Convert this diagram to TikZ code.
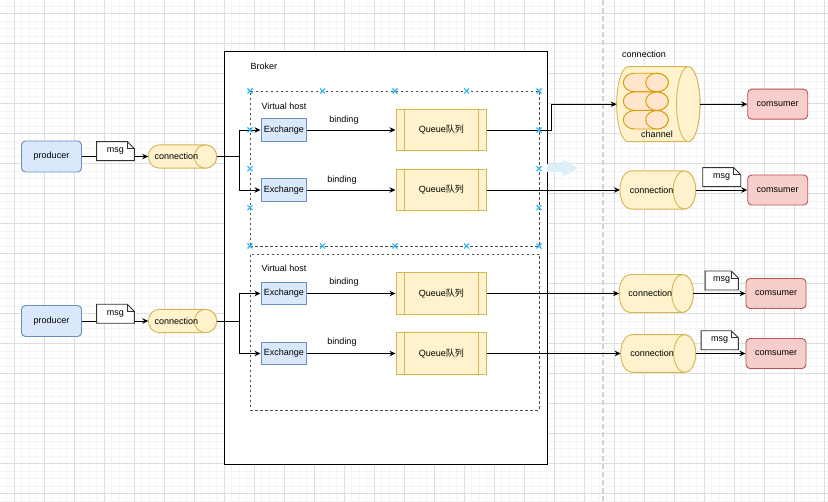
\documentclass[tikz,border=0pt]{standalone}
\usepackage{fontspec}
\setmainfont{Liberation Sans}
\newfontfamily\cjk{Noto Sans CJK SC}
\usetikzlibrary{calc,arrows.meta}
\definecolor{bfill}{HTML}{DAE8FC}
\definecolor{bstroke}{HTML}{6C8EBF}
\definecolor{yfill}{HTML}{FFF2CC}
\definecolor{ystroke}{HTML}{D6B656}
\definecolor{rfill}{HTML}{F8CECC}
\definecolor{rstroke}{HTML}{B85450}
\definecolor{ofill}{HTML}{FFE6CC}
\definecolor{ostroke}{HTML}{D79B00}
\definecolor{selblue}{HTML}{29B6F2}
\definecolor{gridminor}{HTML}{F4F4F4}
\definecolor{gridmajor}{HTML}{DEDEDE}
\definecolor{paleblue}{HTML}{DCEFFB}
\newcommand{\mycyl}[8]{%
  \node[inner sep=0pt, outer sep=0pt, minimum width=#4pt, minimum height=#5pt] (#1) at (#2,#3) {};
  \path[#7] ($(#1.north west)+(#6pt,0pt)$) -- ($(#1.north east)+(-#6pt,0pt)$)
     arc[start angle=90,end angle=-90,x radius=#6pt,y radius=#5pt/2]
     -- ($(#1.south west)+(#6pt,0pt)$)
     arc[start angle=270,end angle=90,x radius=#6pt,y radius=#5pt/2] -- cycle;
  \path[#7] ($(#1.east)+(-#6pt,0pt)$) ellipse[x radius=#6pt,y radius=#5pt/2];
  \node (#1t) at ($(#1.center)+(-#6pt*0.55,0pt)$) {#8};
}
\newcommand{\mynote}[5]{%
  \node[inner sep=0pt, outer sep=0pt, minimum width=#4pt, minimum height=#5pt] (#1) at (#2,#3) {};
  \draw[notest] (#1.south west) -- (#1.north west) -- ($(#1.north east)+(-7pt,0pt)$)
     -- ($(#1.north east)+(0pt,-7pt)$) -- (#1.south east) -- cycle;
  \draw[notest, fill=none] ($(#1.north east)+(-7pt,0pt)$) -- ($(#1.north east)+(-7pt,-7pt)$) -- ($(#1.north east)+(0pt,-7pt)$);
  \node (#1t) at (#1.center) {msg};
}
\begin{document}
\begin{tikzpicture}[x=1pt,y=-1pt,
  font=\fontsize{9}{11}\selectfont,
  arr/.style={draw=black, line width=0.9pt, -{Stealth[length=6pt,width=5.5pt]}},
  ln/.style={draw=black, line width=0.9pt},
  notest/.style={draw=black!80, fill=white, line width=0.9pt},
  bluebox/.style={draw=bstroke, fill=bfill, line width=0.9pt, inner sep=0pt},
  redbox/.style={draw=rstroke, fill=rfill, line width=0.9pt, rounded corners=4pt, inner sep=0pt, minimum width=60pt, minimum height=30pt},
  prodbox/.style={draw=bstroke, fill=bfill, line width=0.9pt, rounded corners=4pt, inner sep=0pt, minimum width=60pt, minimum height=31pt},
  exbox/.style={bluebox, minimum width=45.7pt, minimum height=22.7pt},
  quebox/.style={draw=ystroke, fill=yfill, line width=0.9pt, inner sep=0pt, minimum width=90.7pt, minimum height=41.7pt},
  ycyl/.style={draw=ystroke, fill=yfill, line width=0.9pt},
  ocyl/.style={draw=ostroke, fill=ofill, line width=0.9pt},
  vhost/.style={draw=black!70, line width=0.9pt, dash pattern=on 2.5pt off 2.5pt},
  selmark/.style={draw=selblue, line width=1.1pt},
]
\useasboundingbox (0,0) rectangle (828,502);
% background grid
\fill[white] (0,0) rectangle (828,502);
\foreach \i in {0,...,110} {\draw[gridminor, line width=1pt] ({6.5+7.5*\i},0) -- ({6.5+7.5*\i},502);}
\foreach \i in {0,...,66} {\draw[gridminor, line width=1pt] (0,{6.5+7.5*\i}) -- (828,{6.5+7.5*\i});}
\foreach \i in {0,...,27} {\draw[gridmajor, line width=1pt] ({14+30*\i},0) -- ({14+30*\i},502);}
\foreach \i in {0,...,16} {\draw[gridmajor, line width=1pt] (0,{14+30*\i}) -- (828,{14+30*\i});}
% separator
\draw[draw=black!18, line width=1.6pt, dash pattern=on 5pt off 3pt] (603,0) -- (603,502);
% broker
\node[draw=black, fill=white, line width=0.9pt, inner sep=0pt, minimum width=323pt, minimum height=413pt] (broker) at (385.5,257.5) {};
\node[anchor=west] (brokerlbl) at (247,66) {Broker};
% virtual hosts
\node[vhost, inner sep=0pt, minimum width=289pt, minimum height=155pt] (vh1) at (394.5,168.5) {};
\node[vhost, inner sep=0pt, minimum width=289pt, minimum height=156pt] (vh2) at (394.5,332) {};
\node[anchor=west] (vh1lbl) at (258,106.5) {Virtual host};
\node[anchor=west] (vh2lbl) at (258,268.5) {Virtual host};
% pale arrow
\fill[paleblue] (547,164) -- (563,164) -- (563,159.5) -- (578,168) -- (563,176.5) -- (563,172) -- (547,172) -- cycle;
% producers
\node[prodbox] (p1) at (51.5,156.5) {producer};
\node[prodbox] (p2) at (51.5,321) {producer};
\mycyl{c1}{182.5}{156.5}{68.4}{23.3}{11.2}{ycyl}{connection}
\mycyl{c2}{182.5}{321}{68.4}{23.3}{11.2}{ycyl}{connection}
% exchanges and queues
\node[exbox] (e1) at (283.8,130) {Exchange};
\node[exbox] (e2) at (283.8,190) {Exchange};
\node[exbox] (e3) at (283.8,293.5) {Exchange};
\node[exbox] (e4) at (283.8,353.5) {Exchange};
\foreach \n/\y in {q1/130,q2/190,q3/293.5,q4/353.5} {
  \node[quebox] (\n) at (441.3,\y) {Queue{\cjk 队列}};
  \draw[draw=ystroke, line width=0.9pt] ($(\n.north west)+(9pt,0pt)$) -- ($(\n.south west)+(9pt,0pt)$);
  \draw[draw=ystroke, line width=0.9pt] ($(\n.north east)+(-9pt,0pt)$) -- ($(\n.south east)+(-9pt,0pt)$);
}
% channel connection
\mycyl{ch}{658.3}{104.2}{83.3}{75}{11.7}{ycyl}{}
\mycyl{s1}{645.8}{82.5}{45}{18.5}{11.3}{ocyl}{}
\mycyl{s2}{645.8}{101.2}{45}{18.5}{11.3}{ocyl}{}
\mycyl{s3}{645.8}{119.8}{45}{18.5}{11.3}{ocyl}{}
\node (chlbl) at (657,134.5) {channel};
\node (chtitle) at (644,54) {connection};
% right connections
\mycyl{cc2}{657.8}{190}{75.7}{38.3}{11.2}{ycyl}{connection}
\mycyl{cc3}{656.2}{293.5}{74.3}{38}{10.8}{ycyl}{connection}
\mycyl{cc4}{658.2}{353.5}{75}{37.7}{11}{ycyl}{connection}
% consumers
\node[redbox] (u1) at (777.7,104.2) {comsumer};
\node[redbox] (u2) at (777.7,190) {comsumer};
\node[redbox] (u3) at (776,293.5) {comsumer};
\node[redbox] (u4) at (776,353.5) {comsumer};
% junctions
\coordinate (j1) at (239,156.5);
\coordinate (j2) at (239,321);
\coordinate (k1) at (551,130);
% connectors
\draw[arr] (p1.east) -- (c1.west);
\draw[arr] (p2.east) -- (c2.west);
\draw[ln] (c1.east) -- (j1);
\draw[ln] (c2.east) -- (j2);
\draw[arr] (j1) |- (e1.west);
\draw[arr] (j1) |- (e2.west);
\draw[arr] (j2) |- (e3.west);
\draw[arr] (j2) |- (e4.west);
\draw[arr] (e1) -- (q1);
\draw[arr] (e2) -- (q2);
\draw[arr] (e3) -- (q3);
\draw[arr] (e4) -- (q4);
\draw[arr] (q1.east) -- (k1) |- (ch.west);
\draw[arr] (q2.east) -- (cc2.west);
\draw[arr] (q3.east) -- (cc3.west);
\draw[arr] (q4.east) -- (cc4.west);
\draw[arr] (ch.east) -- (u1.west);
\draw[arr] (cc2.east) -- (u2.west);
\draw[arr] (cc3.east) -- (u3.west);
\draw[arr] (cc4.east) -- (u4.west);
% binding labels
\node (b1) at (344,120) {binding};
\node (b2) at (342,180) {binding};
\node (b3) at (344,282) {binding};
\node (b4) at (342,342) {binding};
% msg notes
\mynote{m1}{115.5}{151.2}{37.7}{19}
\mynote{m2}{115.5}{313.8}{37.7}{19}
\mynote{n2}{721.7}{177.2}{38}{19}
\mynote{n3}{721.7}{280.5}{33.3}{19}
\mynote{n4}{719.7}{340.3}{37.3}{19}
% selection markers
\foreach \x/\y in {250/91,322.7/91,395/91,466.7/91,539/91,
                   250/246,322.7/246,395/246,466.7/246,539/246,
                   250/130,250/168.7,250/207.7,539/130,539/168.7,539/207.7} {
  \draw[selmark] (\x-2.5,\y-2.5) -- (\x+2.5,\y+2.5) (\x-2.5,\y+2.5) -- (\x+2.5,\y-2.5);
}
\end{tikzpicture}
\end{document}
